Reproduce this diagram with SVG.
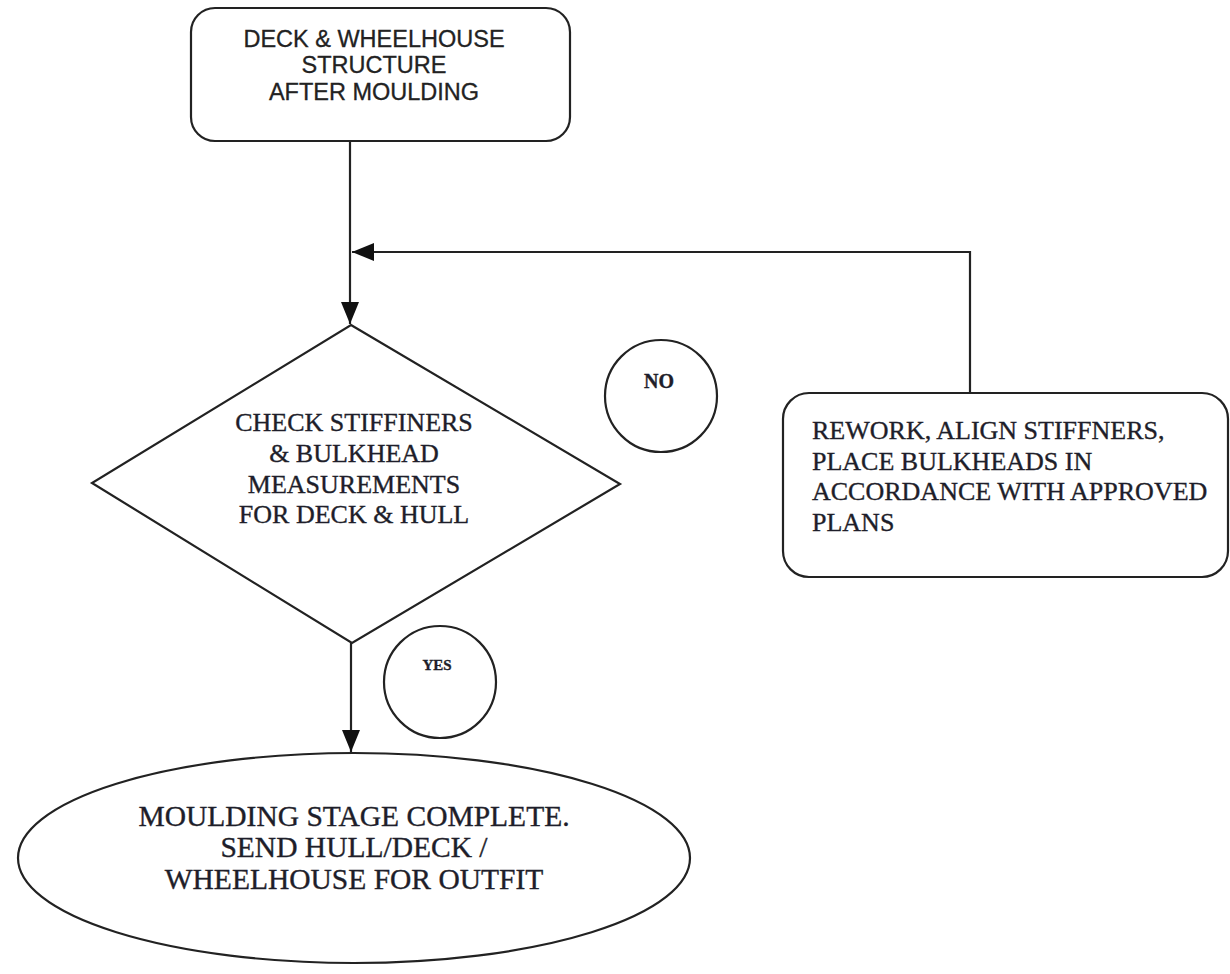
<svg xmlns="http://www.w3.org/2000/svg" width="1230" height="974" viewBox="0 0 1230 974">
<style>
.box{fill:#fff;stroke:#222;stroke-width:2.2}
.line{fill:none;stroke:#222;stroke-width:2.2}
.sans{font-family:"Liberation Sans",Arial,sans-serif;fill:#222;stroke:#222;stroke-width:0.3}
.serif{font-family:"Liberation Serif","Times New Roman",serif;fill:#1e1e2a;stroke:#1e1e2a;stroke-width:0.35}
</style>
<defs>
<marker id="arr" markerUnits="userSpaceOnUse" viewBox="0 0 22 18" refX="22" refY="9" markerWidth="22" markerHeight="18" orient="auto">
<path d="M0,0 L22,9 L0,18 z" fill="#111"/>
</marker>
</defs>
<rect width="1230" height="974" fill="#fff"/>
<g id="connectors">
<line class="line" x1="350" y1="141" x2="350" y2="324" marker-end="url(#arr)"/>
<polyline class="line" points="970,393 970,252 352,252" marker-end="url(#arr)"/>
<line class="line" x1="351" y1="643" x2="351" y2="752" marker-end="url(#arr)"/>
</g>
<g id="start">
<rect class="box" x="191" y="8" width="379" height="133" rx="24"/>
<text class="sans" font-size="23.5" text-anchor="middle"><tspan x="374" y="47">DECK &amp; WHEELHOUSE</tspan><tspan x="374" y="73">STRUCTURE</tspan><tspan x="374" y="100">AFTER MOULDING</tspan></text>
</g>
<g id="check">
<polygon class="box" points="351,325 620,484 352,643 92,483"/>
<text class="serif" font-size="26" text-anchor="middle"><tspan x="354" y="431">CHECK STIFFINERS</tspan><tspan x="354" y="462">&amp; BULKHEAD</tspan><tspan x="354" y="493">MEASUREMENTS</tspan><tspan x="354" y="523">FOR DECK &amp; HULL</tspan></text>
</g>
<g id="no">
<circle class="box" cx="661" cy="396" r="56"/>
<text class="serif" font-size="20" font-weight="bold" text-anchor="middle" x="659" y="388">NO</text>
</g>
<g id="rework">
<rect class="box" x="783" y="393" width="445" height="184" rx="26"/>
<text class="serif" font-size="26"><tspan x="812" y="439">REWORK, ALIGN STIFFNERS,</tspan><tspan x="812" y="469.5">PLACE BULKHEADS IN</tspan><tspan x="812" y="500">ACCORDANCE WITH APPROVED</tspan><tspan x="812" y="530.5">PLANS</tspan></text>
</g>
<g id="yes">
<circle class="box" cx="440" cy="682" r="56"/>
<text class="serif" font-size="15" font-weight="bold" text-anchor="middle" x="437" y="670">YES</text>
</g>
<g id="end">
<ellipse class="box" cx="354" cy="858" rx="336" ry="105"/>
<text class="serif" font-size="29.5" text-anchor="middle"><tspan x="354" y="826">MOULDING STAGE COMPLETE.</tspan><tspan x="354" y="857">SEND HULL/DECK /</tspan><tspan x="354" y="889">WHEELHOUSE FOR OUTFIT</tspan></text>
</g>
</svg>
